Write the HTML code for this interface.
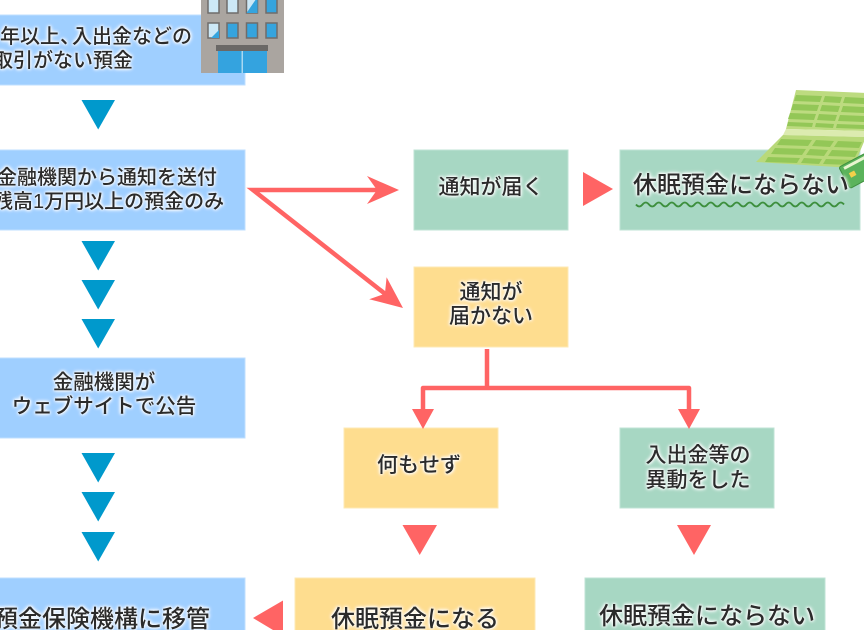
<!DOCTYPE html>
<html><head><meta charset="utf-8">
<style>
html,body{margin:0;padding:0;background:#fff;}
#w{position:relative;width:864px;height:630px;overflow:hidden;background:#fff;}
svg{position:absolute;left:0;top:0;}
.t{position:absolute;white-space:nowrap;font-family:"Liberation Sans","Noto Sans CJK JP",sans-serif;color:#2b2b2b;font-size:20px;line-height:24px;font-weight:500;
text-shadow:0 0 2px #fff,0 0 3px #fff,0 0 4px #fff,0 0 5px rgba(255,255,255,.8);}
.c{transform:translateX(-50%);text-align:center;}
.m{font-size:21px;}
.b{font-size:24px;line-height:28px;}
.nc{margin-right:-8px;}
</style></head><body><div id="w">
<svg width="864" height="630" viewBox="0 0 864 630" xmlns="http://www.w3.org/2000/svg">
  <g fill="#9fcfff" stroke="#bfdfff" stroke-width="1">
    <rect x="-10" y="15" width="255" height="70"/>
    <rect x="-10" y="150" width="255" height="80"/>
    <rect x="-10" y="358" width="255" height="80"/>
    <rect x="-10" y="578" width="255" height="80"/>
  </g>
  <g fill="#0099cc">
    <polygon points="81.5,100 115,100 98.2,129.5"/>
    <polygon points="81.5,241 115,241 98.2,270.5"/>
    <polygon points="81.5,280 115,280 98.2,309.5"/>
    <polygon points="81.5,319 115,319 98.2,348.5"/>
    <polygon points="81.5,453 115,453 98.2,482.5"/>
    <polygon points="81.5,492 115,492 98.2,521.5"/>
    <polygon points="81.5,532 115,532 98.2,561.5"/>
  </g>
  <g>
    <rect x="201" y="-2" width="83" height="75" fill="#aaa5a0"/>
    <g stroke="#6f6d6b" stroke-width="1.5">
      <rect x="208" y="-3" width="11" height="16" fill="#cde8f6"/>
      <rect x="227" y="-3" width="11" height="16" fill="#cde8f6"/>
      <rect x="246.5" y="-3" width="11" height="16" fill="#cde8f6"/>
      <rect x="266" y="-3" width="11" height="16" fill="#35a4de"/>
      <rect x="208" y="23" width="11" height="15" fill="#cde8f6"/>
      <rect x="227" y="23" width="11" height="15" fill="#35a4de"/>
      <rect x="246.5" y="23" width="11" height="15" fill="#35a4de"/>
      <rect x="266" y="23" width="11" height="15" fill="#35a4de"/>
    </g>
    <polygon points="257.5,-3 257.5,13 246.5,13" fill="#35a4de"/>
    <polygon points="219,30 219,38 211,38" fill="#35a4de"/>
    <rect x="216" y="45" width="52" height="6" fill="#6a6866"/>
    <rect x="218" y="51" width="49" height="22" fill="#34a3df"/>
    <rect x="241.5" y="51" width="1.5" height="22" fill="#a9d8f2"/>
  </g>
  <rect x="414" y="150" width="154" height="80" fill="#a7d7c3" stroke="#bfe3d4" stroke-width="1"/>
  <rect x="620" y="150" width="240" height="80" fill="#a7d7c3" stroke="#bfe3d4" stroke-width="1"/>
  <rect x="414" y="267" width="154" height="80" fill="#fedd8f" stroke="#fee9b5" stroke-width="1"/>
  <rect x="344" y="428" width="154" height="80" fill="#fedd8f" stroke="#fee9b5" stroke-width="1"/>
  <rect x="620" y="428" width="154" height="80" fill="#a7d7c3" stroke="#bfe3d4" stroke-width="1"/>
  <rect x="295" y="578" width="240" height="80" fill="#fedd8f" stroke="#fee9b5" stroke-width="1"/>
  <rect x="585" y="578" width="240" height="80" fill="#a7d7c3" stroke="#bfe3d4" stroke-width="1"/>
  <path d="M636,204.5 q3.25,4 6.5,0 t6.5,0 t6.5,0 t6.5,0 t6.5,0 t6.5,0 t6.5,0 t6.5,0 t6.5,0 t6.5,0 t6.5,0 t6.5,0 t6.5,0 t6.5,0 t6.5,0 t6.5,0 t6.5,0 t6.5,0 t6.5,0 t6.5,0 t6.5,0 t6.5,0 t6.5,0 t6.5,0 t6.5,0 t6.5,0 t6.5,0 t6.5,0 t6.5,0 t6.5,0 t6.5,0 t6.5,0" fill="none" stroke="#3d8f3d" stroke-width="1.8"/>
  <g>
    <polygon points="796,90 866,93 866,131 786,129" fill="#bddb80"/>
    <polygon points="786,129 866,131 866,137 783,135" fill="#dcebb0"/>
    <polygon points="783,135 866,137 853,168 756,162" fill="#b9d97a"/>
    <g fill="#93c757">
      <polygon points="796,95 822,96 820,102 794,101"/>
      <polygon points="825,96 842,97 840,103 823,102"/>
      <polygon points="845,97 864,98 864,104 843,103"/>
      <polygon points="793,104 819,105 817,111 791,110"/>
      <polygon points="822,105 840,106 838,112 820,111"/>
      <polygon points="843,106 864,107 864,113 841,112"/>
      <polygon points="790,113 816,114 814,120 788,119"/>
      <polygon points="819,114 837,115 835,121 817,120"/>
      <polygon points="840,115 864,116 864,122 838,121"/>
      <polygon points="788,122 813,123 812,127 787,126"/>
      <polygon points="816,123 834,124 833,128 815,127"/>
      <polygon points="837,124 864,125 864,129 836,128"/>
      <polygon points="781,139 812,140 808,146 777,145"/>
      <polygon points="816,140 834,141 830,147 812,146"/>
      <polygon points="838,141 862,142 859,148 834,147"/>
      <polygon points="775,148 806,149 802,155 771,154"/>
      <polygon points="810,149 828,150 824,156 806,155"/>
      <polygon points="832,150 858,151 855,157 828,156"/>
      <polygon points="768,157 800,158 797,163 765,162"/>
      <polygon points="804,158 822,159 819,164 801,163"/>
      <polygon points="826,159 853,160 851,165 823,164"/>
    </g>
    <g transform="translate(856,174) rotate(-28)">
      <rect x="-12" y="-14" width="34" height="24" rx="2" fill="#5bb35b" stroke="#3f8f3f" stroke-width="1"/>
      <rect x="-6" y="-4" width="6" height="5" fill="#f2d04a"/>
      <rect x="-8" y="-12" width="24" height="3" fill="#e8f5d0"/>
    </g>
  </g>
  <g fill="#ff6464">
    <polyline points="377,190 253,190 385,293.8" fill="none" stroke="#ff6464" stroke-width="4.5" stroke-linejoin="miter"/>
    <polygon points="399,190 367,176 377,190 367,204"/>
    <polygon points="403,308 369.2,299.2 384.9,293.8 386.6,277.2"/>
    <polygon points="583,172 613,189 583,206"/>
    <path d="M487,349 V388 M423,412 V388 H689 V412" fill="none" stroke="#ff6464" stroke-width="4.5" stroke-linejoin="round"/>
    <polygon points="412,409 434,409 423,429"/>
    <polygon points="678,409 700,409 689,429"/>
    <polygon points="402.5,525 437,525 419.7,555"/>
    <polygon points="677,525 711,525 694,555"/>
    <polygon points="253,618 283,600.5 283,636"/>
  </g>
</svg>

<div class="t" style="left:0px;top:25px;">年以上<span class="nc">、</span>入出金などの</div>
<div class="t" style="left:-7px;top:49px;">取引がない預金</div>
<div class="t" style="left:-3px;top:166px;">金融機関から通知を送付</div>
<div class="t" style="left:-7px;top:190px;">残高1万円以上の預金のみ</div>
<div class="t c" style="left:104px;top:371px;font-size:20.5px;">金融機関が</div>
<div class="t c" style="left:104px;top:395px;font-size:20.5px;">ウェブサイトで公告</div>
<div class="t c b" style="left:102px;top:606px;">預金保険機構に移管</div>

<div class="t c m" style="left:491px;top:176px;">通知が届く</div>
<div class="t c m" style="left:491px;top:281px;">通知が</div>
<div class="t c m" style="left:491px;top:305px;">届かない</div>
<div class="t c b" style="left:741px;top:172px;">休眠預金にならない</div>
<div class="t c m" style="left:419px;top:454px;">何もせず</div>
<div class="t c m" style="left:698px;top:444px;">入出金等の</div>
<div class="t c m" style="left:698px;top:469px;">異動をした</div>
<div class="t c b" style="left:415px;top:606px;">休眠預金になる</div>
<div class="t c b" style="left:707px;top:603px;">休眠預金にならない</div>
</div></body></html>
